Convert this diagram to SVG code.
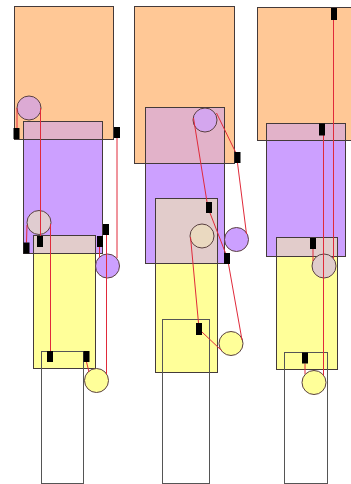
<svg xmlns="http://www.w3.org/2000/svg" width="351" height="484" viewBox="0 0 351 484">
<style>
.o{fill:#ffc896}
.p{fill:#cca0ff}
.y{fill:#ffff99}
.pk{fill:#e2b2c9}
.tn{fill:#e2cccb}
.ol{fill:none;stroke:#443a3a;stroke-width:1}
.w{fill:none;stroke:#555;stroke-width:1}
.c{stroke:#5a4040;stroke-width:1}
.m{fill:#000}
.l{stroke:#e02a3a;stroke-width:1;fill:none}
</style>
<rect width="351" height="484" fill="#fff"/>
<!-- column 1 -->
<g id="col1-orange"><rect class="o" x="14.5" y="6.5" width="99" height="133"/></g>
<g id="col1-purple"><rect class="p" x="23.5" y="121.5" width="79" height="132"/><rect class="pk" x="23.5" y="121.5" width="79" height="18"/></g>
<g id="col1-yellow"><rect class="y" x="33.5" y="253.5" width="62" height="115"/><rect class="tn" x="33.5" y="235.5" width="62" height="18"/></g>
<!-- column 2 -->
<g id="col2-orange"><rect class="o" x="134.5" y="6.5" width="100" height="157"/></g>
<g id="col2-purple"><rect class="p" x="145.5" y="107.5" width="79" height="156"/><rect class="pk" x="145.5" y="107.5" width="79" height="56"/></g>
<g id="col2-yellow"><rect class="y" x="155.5" y="263.5" width="62" height="109"/><rect class="tn" x="155.5" y="198.5" width="62" height="65"/></g>
<!-- column 3 -->
<g id="col3-orange"><rect class="o" x="257.5" y="7.5" width="100" height="133"/></g>
<g id="col3-purple"><rect class="p" x="266.5" y="123.5" width="79" height="133"/><rect class="pk" x="266.5" y="123.5" width="79" height="17"/></g>
<g id="col3-yellow"><rect class="y" x="276.5" y="256.5" width="61" height="113"/><rect class="tn" x="276.5" y="237.5" width="61" height="19"/></g>
<!-- outlines -->
<g id="outlines">
<rect class="ol" x="14.5" y="6.5" width="99" height="133"/>
<rect class="ol" x="23.5" y="121.5" width="79" height="132"/>
<rect class="ol" x="33.5" y="235.5" width="62" height="133"/>
<rect class="ol" x="134.5" y="6.5" width="100" height="157"/>
<rect class="ol" x="145.5" y="107.5" width="79" height="156"/>
<rect class="ol" x="155.5" y="198.5" width="62" height="174"/>
<rect class="ol" x="257.5" y="7.5" width="100" height="133"/>
<rect class="ol" x="266.5" y="123.5" width="79" height="133"/>
<rect class="ol" x="276.5" y="237.5" width="61" height="132"/>
</g>
<g id="col1-white"><rect class="w" x="41.5" y="351.5" width="42" height="132"/></g>
<g id="col2-white"><rect class="w" x="162.5" y="319.5" width="47" height="164"/></g>
<g id="col3-white"><rect class="w" x="284.5" y="352.5" width="43" height="131"/></g>
<!-- circles -->
<g id="col1-c1"><circle class="c" cx="29" cy="108" r="12" fill="#dcaad4"/></g>
<g id="col1-c2"><circle class="c" cx="39" cy="222.5" r="12" fill="#e0ccd0"/></g>
<g id="col1-c3"><circle class="c" cx="107.5" cy="266" r="12" fill="#cca0ff"/></g>
<g id="col1-c4"><circle class="c" cx="96.5" cy="380.5" r="12" fill="#ffff99"/></g>
<g id="col2-c1"><circle class="c" cx="205" cy="120" r="12" fill="#d4a6ee"/></g>
<g id="col2-c2"><circle class="c" cx="202" cy="236" r="12" fill="#ead9c0"/></g>
<g id="col2-c3"><circle class="c" cx="236.5" cy="239.5" r="12" fill="#cca0ff"/></g>
<g id="col2-c4"><circle class="c" cx="231" cy="343.5" r="12" fill="#ffff99"/></g>
<g id="col3-c1"><circle class="c" cx="324" cy="266" r="12" fill="#e0cccc"/></g>
<g id="col3-c2"><circle class="c" cx="314" cy="382.5" r="12" fill="#ffff99"/></g>
<!-- connectors -->
<g id="connectors" class="l">
<line x1="17" y1="108" x2="17" y2="128"/>
<line x1="40.5" y1="108" x2="40.5" y2="236"/>
<line x1="27" y1="225" x2="26.5" y2="242.5"/>
<line x1="50.5" y1="224" x2="50.5" y2="351"/>
<line x1="99.5" y1="247" x2="99.5" y2="257.5"/>
<line x1="106.5" y1="235" x2="106.5" y2="374"/>
<line x1="117" y1="138" x2="117" y2="258"/>
<line x1="86.5" y1="362" x2="89" y2="372"/>
<line x1="193.5" y1="118" x2="207" y2="202"/>
<line x1="216.5" y1="113" x2="235.5" y2="152"/>
<line x1="237.5" y1="163" x2="246.5" y2="234"/>
<line x1="210" y1="213" x2="225.5" y2="253"/>
<line x1="228.5" y1="264" x2="242" y2="340"/>
<line x1="190.5" y1="237" x2="198.5" y2="323"/>
<line x1="202" y1="332" x2="221.5" y2="350.5"/>
<line x1="333.5" y1="20" x2="333.5" y2="258.5"/>
<line x1="323.5" y1="135" x2="323.5" y2="375.5"/>
<line x1="313" y1="249" x2="313" y2="261"/>
<line x1="305" y1="363.5" x2="305" y2="374"/>
</g>
<!-- markers -->
<g id="markers" class="m">
<rect x="13.5" y="128" width="6" height="11"/>
<rect x="114" y="127" width="6" height="11"/>
<rect x="37" y="236" width="6" height="11"/>
<rect x="23.5" y="242.5" width="6" height="11"/>
<rect x="97" y="236" width="6" height="11"/>
<rect x="103" y="224" width="6" height="11"/>
<rect x="47" y="351" width="6" height="11"/>
<rect x="83.5" y="351" width="6" height="11"/>
<rect x="234.5" y="152" width="6" height="11"/>
<rect x="206" y="202" width="6" height="11"/>
<rect x="224" y="253" width="6" height="11"/>
<rect x="196" y="323" width="6" height="12"/>
<rect x="331" y="8" width="6" height="12"/>
<rect x="319" y="123.5" width="6" height="12"/>
<rect x="310" y="238" width="6" height="11"/>
<rect x="302" y="352.5" width="6" height="11"/>
</g>
</svg>
